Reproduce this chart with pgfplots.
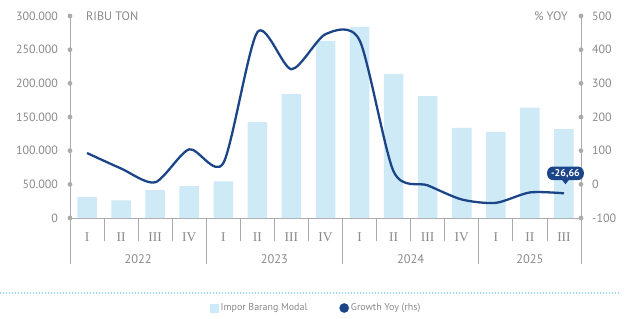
\documentclass[border=0pt]{standalone}
\usepackage{fontspec}
\setmainfont{PT Sans}
\newfontfamily\rn{Liberation Serif}
\usepackage{pgfplots}
\usepackage{pgfplotstable}
\pgfplotsset{compat=1.18}
\definecolor{barblue}{HTML}{CDEAF6}
\definecolor{navy}{HTML}{1C4587}
\definecolor{axgray}{HTML}{ABABAB}
\definecolor{txtgray}{HTML}{8A8A8A}
\definecolor{dotblue}{HTML}{9ED8EC}

\pgfplotstableread{
x imp gr
0 31000 93
1 26000 47
2 41500 6
3 47500 104
4 54500 63
5 142500 452
6 184000 342
7 263000 446
8 284000 428
9 214000 38
10 181000 -3
11 134000 -45
12 128000 -55
13 164000 -24
14 132000 -26.66
}\datatable

\begin{document}
\begin{tikzpicture}
\useasboundingbox (0,0) rectangle (627bp,-319bp);
\begin{axis}[
  at={(70bp,-218bp)}, anchor=south west,
  width=511bp, height=202bp, scale only axis,
  clip=false,
  xmin=-0.5, xmax=14.5, ymin=0, ymax=300000,
  axis x line*=bottom, axis y line*=left,
  axis line style={axgray, line width=0.8bp, -},
  major tick length=0pt,
  ytick={0,50000,100000,150000,200000,250000,300000},
  yticklabels={0,50.000,100.000,150.000,200.000,250.000,300.000},
  scaled y ticks=false,
  yticklabel style={font=\fontsize{12}{14}\selectfont, text=txtgray, inner sep=0pt, anchor=east, xshift=-12bp},
  xtick={0,...,14},
  xticklabels={I,II,III,IV,I,II,III,IV,I,II,III,IV,I,II,III},
  xticklabel style={font=\rn\fontsize{13.5}{15}\selectfont, text=txtgray, inner sep=0pt, anchor=north, yshift=-14bp},
]
\addplot[ybar, bar width=19.5bp, fill=barblue, draw=none] table[x=x,y=imp]{\datatable};
\pgfplotsinvokeforeach{0,50000,100000,150000,200000,250000,300000}{
  \fill[axgray] (axis cs:-0.5,#1) circle (2.4bp);
}
\draw[axgray, line width=0.8bp] (axis cs:-0.5,0) -- ++(0pt,-46bp);
\draw[axgray, line width=0.8bp] (axis cs:14.5,0) -- ++(0pt,-46bp);
\pgfplotsinvokeforeach{3.5,7.5,11.5}{
  \draw[axgray, line width=0.8bp] (axis cs:#1,0) -- ++(0pt,-46bp);
}
\pgfplotsinvokeforeach{0.5,1.5,2.5,4.5,5.5,6.5,8.5,9.5,10.5,12.5,13.5}{
  \draw[axgray, line width=0.8bp] (axis cs:#1,0) -- ++(0pt,-23bp);
}
\node[font=\fontsize{12.5}{15}\selectfont, text=txtgray] at (axis cs:1.5,0) [yshift=-41bp] {2022};
\node[font=\fontsize{12.5}{15}\selectfont, text=txtgray] at (axis cs:5.5,0) [yshift=-41bp] {2023};
\node[font=\fontsize{12.5}{15}\selectfont, text=txtgray] at (axis cs:9.5,0) [yshift=-41bp] {2024};
\node[font=\fontsize{12.5}{15}\selectfont, text=txtgray] at (axis cs:13,0) [yshift=-41bp] {2025};
\node[anchor=west, font=\fontsize{12.3}{15}\selectfont, text=txtgray, inner sep=0pt] at (rel axis cs:0,1) [xshift=16bp] {RIBU TON};
\draw[dotblue, line width=1.3bp, dash pattern=on 1.3bp off 1.7bp] (rel axis cs:-0.137,-0.371) -- (rel axis cs:1.076,-0.371);
\end{axis}
\begin{axis}[
  at={(70bp,-218bp)}, anchor=south west,
  width=511bp, height=202bp, scale only axis,
  clip=false,
  xmin=-0.5, xmax=14.5, ymin=-100, ymax=500,
  axis x line=none, axis y line*=right,
  axis line style={axgray, line width=0.8bp, -},
  major tick length=0pt,
  ytick={-100,0,100,200,300,400,500},
  yticklabels={-100,0,100,200,300,400,500},
  yticklabel style={font=\fontsize{12}{14}\selectfont, text=txtgray, inner sep=0pt, anchor=west, xshift=11bp},
  legend style={at={(rel axis cs:0.4820,-0.4455)}, anchor=center, draw=none, fill=none,
     legend columns=2, font=\fontsize{10}{12}\selectfont, text=txtgray,
     /tikz/every even column/.append style={column sep=30bp}},
]
\addlegendimage{legend image code/.code={\fill[barblue] (0bp,-4bp) rectangle (8bp,4bp);}}
\addlegendentry{Impor Barang Modal}
\addplot[navy, line width=2.3bp, smooth, tension=0.45, no marks,
  legend image code/.code={\fill[navy] (4bp,0bp) circle (3.6bp);}] table[x=x,y=gr]{\datatable};
\addlegendentry{Growth Yoy (rhs)}
\pgfplotsinvokeforeach{-100,0,100,200,300,400,500}{
  \fill[axgray] (axis cs:14.5,#1) circle (2.4bp);
}
\node[anchor=east, font=\fontsize{12.3}{15}\selectfont, text=txtgray, inner sep=0pt] at (rel axis cs:1,1) [xshift=-13bp] {\% YOY};
\node[fill=navy, text=white, font=\bfseries\fontsize{10}{12}\selectfont, rounded corners=6bp,
  inner xsep=4bp, inner ysep=2.5bp, anchor=center] (c) at (axis cs:14,-26.66) [yshift=20bp, xshift=1.5bp] {-26,66};
\fill[navy] ([xshift=-3.5bp,yshift=0.5bp]c.south) -- ([xshift=3.5bp,yshift=0.5bp]c.south) -- ([yshift=-4bp]c.south) -- cycle;
\end{axis}
\end{tikzpicture}
\end{document}
